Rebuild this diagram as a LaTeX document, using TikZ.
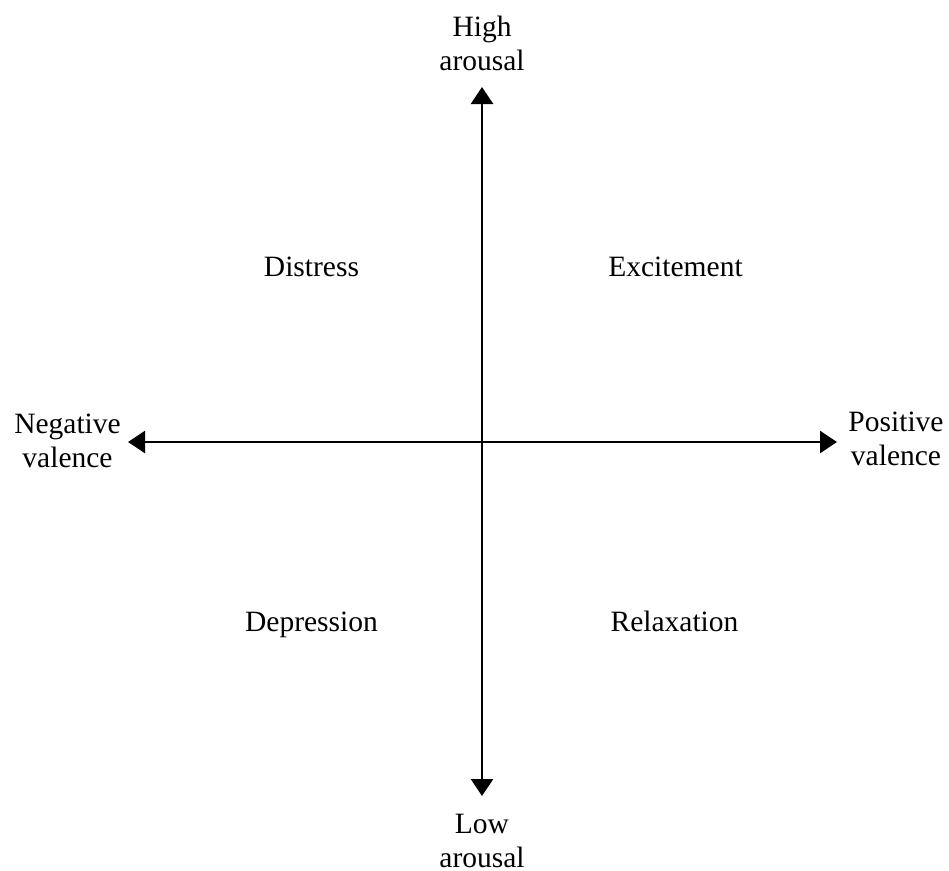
\documentclass[tikz,border=0pt]{standalone}
\usepackage{fontspec}
\setmainfont{Liberation Serif}
\usetikzlibrary{arrows.meta}
\begin{document}
\begin{tikzpicture}[x=1pt,y=-1pt,
  lbl/.style={font=\fontsize{29.5}{34}\selectfont, inner sep=0pt, anchor=base, align=center},
  axis/.style={line width=2.6pt, {Triangle[width=22pt,length=17pt]}-{Triangle[width=22pt,length=17pt]}}]
\useasboundingbox (0,0) rectangle (949,870);
\coordinate (top) at (482,87);
\coordinate (bot) at (482,796);
\coordinate (lft) at (128,442);
\coordinate (rgt) at (837,442);
\draw[axis] (top) -- (bot);
\draw[axis] (lft) -- (rgt);
\node[lbl] (high) at (482,70) {High\\arousal};
\node[lbl] (low) at (482,867) {Low\\arousal};
\node[lbl] (neg) at (67.5,467) {Negative\\valence};
\node[lbl] (pos) at (896,465) {Positive\\valence};
\node[lbl] (dis) at (311.5,276) {Distress};
\node[lbl] (exc) at (675.5,276) {Excitement};
\node[lbl] (dep) at (311.5,631) {Depression};
\node[lbl] (rel) at (674.5,631) {Relaxation};
\end{tikzpicture}
\end{document}
